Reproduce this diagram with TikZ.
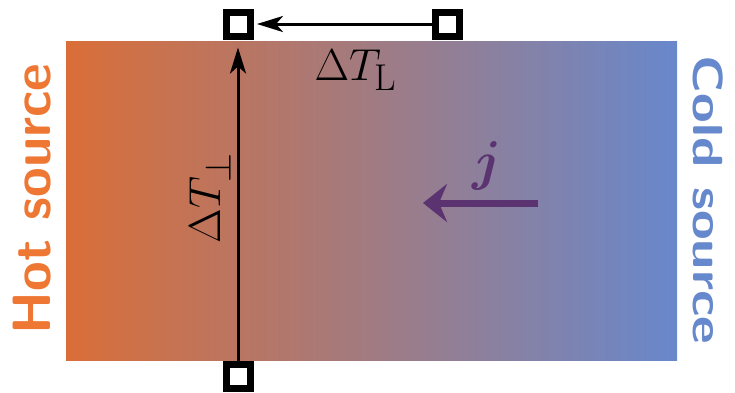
\documentclass[tikz,border=0pt]{standalone}
\usepackage{fontspec}
\usepackage{bm}
\usetikzlibrary{arrows.meta}
\definecolor{hotc}{HTML}{DA6E38}
\definecolor{coldc}{HTML}{6888CC}
\definecolor{hottext}{HTML}{EE7733}
\definecolor{coldtext}{HTML}{6688CC}
\definecolor{jcol}{HTML}{5B3370}
\tikzset{
  probe/.style={draw=black, line width=7pt, fill=white, minimum size=24pt, inner sep=0pt},
  tarrow/.style={line width=3pt, -{Stealth[length=26pt,width=16pt,inset=7pt]}},
  jarrow/.style={line width=7pt, draw=jcol, -{Stealth[length=24pt,width=38pt,inset=8pt]}},
  srclabel/.style={anchor=base, font=\sffamily\bfseries\fontsize{54}{60}\selectfont, inner sep=0pt},
  mathlabel/.style={anchor=base, font=\Huge, inner sep=0pt}
}
\begin{document}
\begin{tikzpicture}[x=1pt,y=-1pt]
\useasboundingbox (0,0) rectangle (735,392);
\shade[left color=hotc, right color=coldc] (66,41) rectangle (677,360);
\node[probe] (tl) at (238,24) {};
\node[probe] (tr) at (447,24) {};
\node[probe] (bl) at (238,376.5) {};
\draw[tarrow, shorten >=8pt] (bl.north) -- (tl.south);
\draw[tarrow, shorten >=3.5pt] (tr.west) -- (tl.east);
\coordinate (js) at (538,203);
\coordinate (je) at (423,203);
\draw[jarrow] (js) -- (je);
\node[mathlabel] (dtl) at (356,80) {\scalebox{1.8}{$\Delta T_{\mathrm{L}}$}};
\node[mathlabel, rotate=90] (dtp) at (220,198) {\scalebox{1.8}{$\Delta T_{\perp}$}};
\node[mathlabel, text=jcol] (j) at (487,179) {\scalebox{2.2}{$\bm{j}$}};
\node[srclabel, rotate=90, text=hottext] (hot) at (50,199) {Hot source};
\node[srclabel, rotate=-90, text=coldtext] (cold) at (693,200) {\scalebox{1}[0.78]{Cold source}};
\end{tikzpicture}
\end{document}
